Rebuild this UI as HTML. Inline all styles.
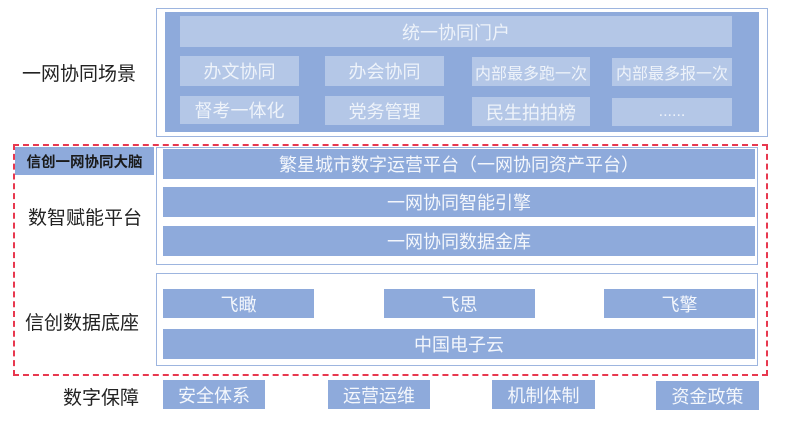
<!DOCTYPE html>
<html><head><meta charset="utf-8"><style>
body{margin:0;width:800px;height:426px;background:#fff;position:relative;overflow:hidden;font-family:"Liberation Sans","Noto Sans CJK SC",sans-serif}
div{position:absolute;box-sizing:border-box}
.b{background:#8eaadb;color:#f4f7fc;display:flex;align-items:center;justify-content:center;font-size:18px;white-space:nowrap}
.l{background:#b4c7e7;color:#eef3fa;display:flex;align-items:center;justify-content:center;font-size:18px;white-space:nowrap}
.s{font-size:16px}
.t{color:#222;font-size:19px;white-space:nowrap}
.fr{border:1.5px solid #9db5df}
</style></head><body>
<div class="fr" style="left:156px;top:8px;width:612px;height:129px"></div>
<div style="left:165px;top:12px;width:594px;height:120px;background:#8eaadb"></div>
<div class="l" style="left:180px;top:16px;width:552px;height:31px">统一协同门户</div>
<div class="l" style="left:180px;top:56px;width:119px;height:30px">办文协同</div>
<div class="l" style="left:325px;top:56px;width:119px;height:30px">办会协同</div>
<div class="l s" style="left:472px;top:57px;width:118px;height:29px">内部最多跑一次</div>
<div class="l s" style="left:612px;top:58px;width:120px;height:28px">内部最多报一次</div>
<div class="l" style="left:180px;top:96px;width:119px;height:28px">督考一体化</div>
<div class="l" style="left:325px;top:96px;width:119px;height:29px">党务管理</div>
<div class="l" style="left:472px;top:97px;width:118px;height:29px">民生拍拍榜</div>
<div class="l s" style="left:612px;top:98px;width:120px;height:28px">......</div>
<div class="t" style="left:22px;top:59px">一网协同场景</div>

<div style="left:13px;top:144px;width:755px;height:232px;border:2px dashed #e8384f"></div>
<div style="left:15px;top:147px;width:139px;height:28px;background:#8eaadb;color:#1a1a1a;font-weight:bold;font-size:14.5px;display:flex;align-items:center;justify-content:center">信创一网协同大脑</div>
<div class="fr" style="left:156px;top:147px;width:602px;height:118px"></div>
<div class="b" style="left:163px;top:149px;width:592px;height:30px">繁星城市数字运营平台（一网协同资产平台）</div>
<div class="b" style="left:163px;top:187px;width:592px;height:30px">一网协同智能引擎</div>
<div class="b" style="left:163px;top:226px;width:592px;height:30px">一网协同数据金库</div>
<div class="t" style="left:28px;top:203px">数智赋能平台</div>
<div class="fr" style="left:156px;top:273px;width:602px;height:93px"></div>
<div class="b" style="left:163px;top:289px;width:151px;height:29px">飞瞰</div>
<div class="b" style="left:384px;top:289px;width:151px;height:29px">飞思</div>
<div class="b" style="left:604px;top:289px;width:151px;height:29px">飞擎</div>
<div class="b" style="left:163px;top:329px;width:592px;height:30px">中国电子云</div>
<div class="t" style="left:25px;top:308px">信创数据底座</div>

<div class="t" style="left:63px;top:383px">数字保障</div>
<div class="b" style="left:163px;top:380px;width:102px;height:29px">安全体系</div>
<div class="b" style="left:328px;top:380px;width:102px;height:29px">运营运维</div>
<div class="b" style="left:492px;top:380px;width:103px;height:29px">机制体制</div>
<div class="b" style="left:656px;top:381px;width:103px;height:29px">资金政策</div>
</body></html>
